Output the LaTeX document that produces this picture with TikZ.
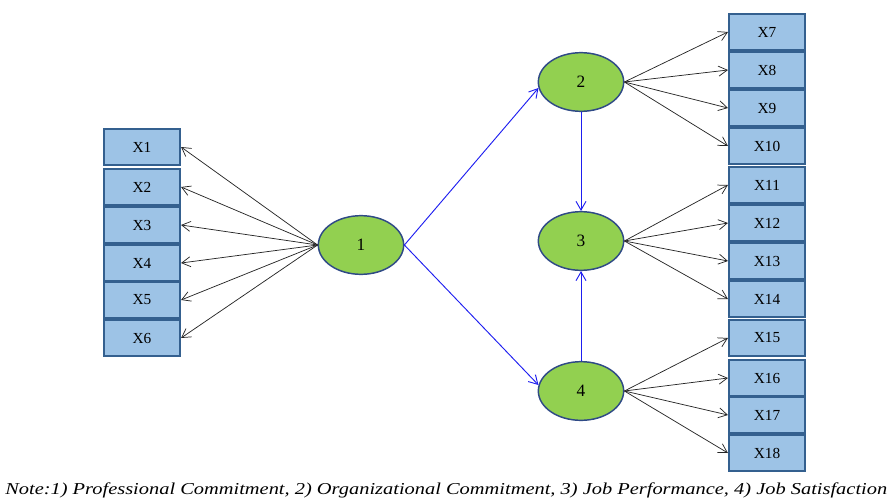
\documentclass[tikz,border=0pt]{standalone}
\usepackage{fontspec}
\setmainfont{Liberation Serif}
\usetikzlibrary{shapes.geometric,arrows.meta}
\definecolor{itemfill}{HTML}{9DC3E6}
\definecolor{itemedge}{HTML}{34608F}
\definecolor{latentfill}{HTML}{92D050}
\definecolor{latentedge}{HTML}{2F4A86}
\definecolor{pathblue}{HTML}{1E1EF0}
\tikzset{
  item/.style={rectangle, draw=itemedge, line width=1.6pt, fill=itemfill,
    minimum width=57pt, minimum height=27pt, inner sep=0pt,
    font=\fontsize{11.5}{13}\selectfont},
  latent/.style={ellipse, draw=latentedge, line width=1.1pt, fill=latentfill,
    minimum width=64pt, minimum height=44pt, inner sep=0pt,
    font=\fontsize{13}{15}\selectfont},
  load/.style={draw=black!85, line width=0.55pt, -{Straight Barb[length=6.5pt,width=7.5pt]}},
  path/.style={draw=pathblue, line width=0.7pt, -{Straight Barb[length=6.5pt,width=7.5pt]}}
}
\begin{document}
\begin{tikzpicture}[x=0.75pt,y=-0.75pt]
\useasboundingbox (0,0) rectangle (893,500);

% latent variables
\node[latent] (l1) at (361,245) {1};
\node[latent] (l2) at (581,82) {2};
\node[latent] (l3) at (581,241) {3};
\node[latent] (l4) at (581,391) {4};

% indicators of construct 1
\foreach \i/\y in {1/147,2/187,3/225,4/263,5/300,6/338}
  \node[item] (x\i) at (142,\y) {X\i};

% indicators of constructs 2, 3 and 4
\foreach \i/\y in {7/32,8/70,9/108,10/146,11/185,12/223,13/261,14/299,15/338,16/378,17/415,18/453}
  \node[item] (x\i) at (767,\y) {X\i};

% loadings
\foreach \i in {1,...,6} \draw[load] (l1.west) -- (x\i.east);
\foreach \i in {7,...,10} \draw[load] (l2.east) -- (x\i.west);
\foreach \i in {11,...,14} \draw[load] (l3.east) -- (x\i.west);
\foreach \i in {15,...,18} \draw[load] (l4.east) -- (x\i.west);

% structural paths
\draw[path] (l1.east) -- (l2.188);
\draw[path] (l1.east) -- (l4.172);
\draw[path] (l2.south) -- (l3.north);
\draw[path] (l4.north) -- (l3.south);

% note, stretched across the full width
\node[anchor=west, inner sep=0pt] (note) at (5,490)
  {\scalebox{1.225}[1]{\fontsize{12.5}{14}\selectfont\itshape Note:1) Professional Commitment, 2) Organizational Commitment, 3) Job Performance, 4) Job Satisfaction}};
\end{tikzpicture}
\end{document}
